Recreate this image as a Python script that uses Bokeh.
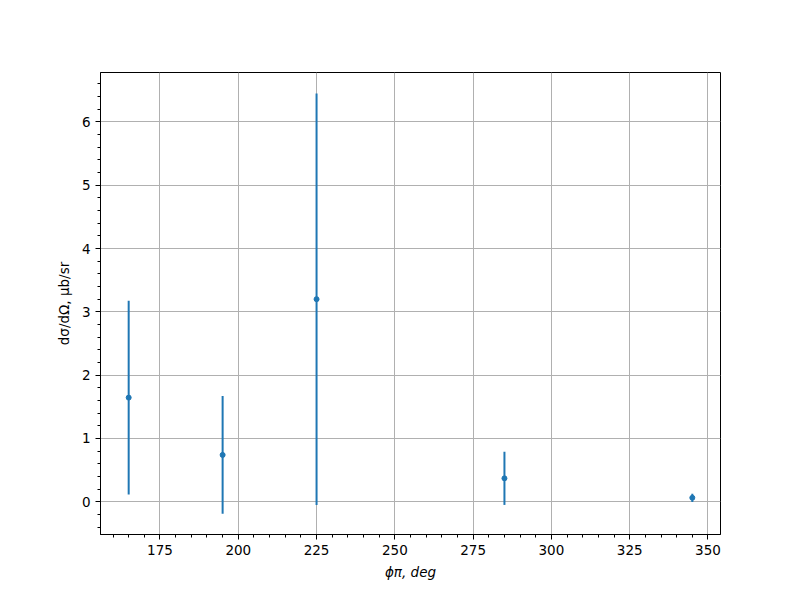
from bokeh.plotting import figure
from bokeh.models import ColumnDataSource, Range1d, SingleIntervalTicker
from bokeh.embed import file_html
from bokeh.resources import INLINE

phi = [165, 195, 225, 285, 345]
xsec = [1.645, 0.74, 3.20, 0.37, 0.063]
err = [1.53, 0.93, 3.25, 0.42, 0.065]

lower = [v - e for v, e in zip(xsec, err)]
upper = [v + e for v, e in zip(xsec, err)]
src = ColumnDataSource(dict(x=phi, y=xsec, lo=lower, hi=upper))

p = figure(output_backend="svg", toolbar_location=None,
           frame_width=620, frame_height=462,
           min_border_left=100, min_border_right=64,
           min_border_top=72, min_border_bottom=50,
           x_range=Range1d(156, 354), y_range=Range1d(-0.517, 6.78),
           background_fill_color="white", border_fill_color="white")

p.segment(x0="x", y0="lo", x1="x", y1="hi", source=src, line_color="#1f77b4", line_width=2)
p.scatter(x="x", y="y", source=src, size=5, color="#1f77b4")

p.xaxis.ticker = SingleIntervalTicker(interval=25, num_minor_ticks=5)
p.yaxis.ticker = SingleIntervalTicker(interval=1, num_minor_ticks=5)

for ax in (p.xaxis[0], p.yaxis[0]):
    ax.major_tick_in = 0
    ax.major_tick_out = 5
    ax.minor_tick_in = 0
    ax.minor_tick_out = 3
    ax.major_tick_line_color = "black"
    ax.minor_tick_line_color = "black"
    ax.axis_line_color = "black"
    ax.major_label_text_font = "DejaVu Sans"
    ax.major_label_text_font_size = "13.5px"
    ax.major_label_text_color = "black"
    ax.axis_label_text_font = "DejaVu Sans"
    ax.axis_label_text_font_size = "13.5px"
    ax.axis_label_text_color = "black"

p.xaxis.axis_label = "ϕπ, deg"
p.xaxis.axis_label_text_font_style = "italic"
p.xaxis.axis_label_standoff = 6
p.yaxis.axis_label = "dσ/dΩ, μb/sr"
p.yaxis.axis_label_text_font_style = "normal"
p.yaxis.axis_label_standoff = 7

p.grid.grid_line_color = "#b0b0b0"
p.grid.grid_line_width = 1
p.outline_line_color = "black"
p.outline_line_width = 1

open("out.html", "w").write(file_html(p, INLINE))
